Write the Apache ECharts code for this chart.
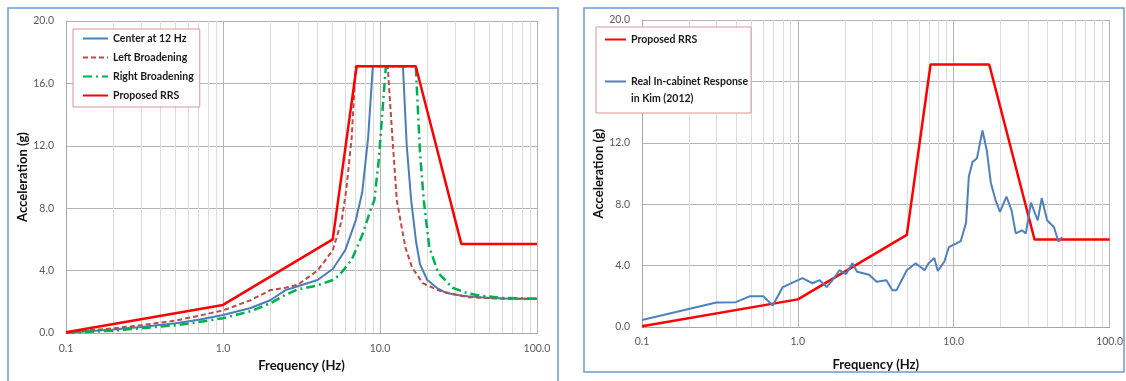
<!DOCTYPE html>
<html>
<head>
<meta charset="utf-8">
<script src="https://cdn.jsdelivr.net/npm/echarts@6/dist/echarts.min.js"></script>
<style>
  html, body { margin: 0; padding: 0; background: #fff; }
  #main { width: 1126px; height: 381px; }
</style>
</head>
<body>
<div id="main"></div>
<script>
// left chart: broadening study
const rrsFreq = [0.1, 1, 5, 7.1, 16.9, 33, 100]
const rrsAcc = [0.05, 1.8, 6.0, 17.1, 17.1, 5.7, 5.7]

const centerFreq = [0.1, 0.2, 0.3, 0.5, 0.7, 1, 1.5, 2, 2.5, 3, 4, 5, 6, 7, 7.7, 8.4, 9, 14, 14.8, 15.8, 17, 18, 20, 23, 26, 30, 36, 50, 70, 100]
const centerAcc = [0.02, 0.22, 0.38, 0.62, 0.85, 1.15, 1.6, 2.1, 2.75, 3.0, 3.4, 4.1, 5.3, 7.2, 9.0, 12.5, 17.1, 17.1, 12.0, 8.5, 5.8, 4.4, 3.4, 2.9, 2.6, 2.45, 2.35, 2.25, 2.2, 2.2]

const leftFreq = [0.1, 0.2, 0.3, 0.5, 0.7, 1, 1.5, 2, 2.5, 3, 4, 5, 5.7, 6.1, 6.6, 7.0, 11.2, 12, 12.8, 14.5, 16, 18.7, 24, 36, 60, 100]
const leftAcc = [0.05, 0.3, 0.5, 0.8, 1.1, 1.45, 2.1, 2.75, 2.9, 3.1, 4.0, 5.3, 7.2, 9.2, 12.5, 17.1, 17.1, 12.5, 8.5, 5.5, 4.2, 3.2, 2.7, 2.3, 2.2, 2.2]

const rightFreq = [0.1, 0.2, 0.3, 0.5, 0.7, 1, 1.5, 2, 2.5, 3, 4, 5, 5.5, 6.6, 7.8, 8.7, 9.2, 9.8, 10.9, 16.9, 18, 19, 20.6, 23.5, 29, 36, 43, 60, 100]
const rightAcc = [0.0, 0.15, 0.3, 0.5, 0.7, 0.95, 1.4, 1.9, 2.45, 2.8, 3.05, 3.4, 3.7, 4.7, 6.4, 7.9, 8.5, 11, 17.1, 17.1, 11.5, 8.5, 5.5, 3.85, 2.9, 2.55, 2.4, 2.25, 2.2]

// right chart: measured cabinet response
const kimFreq = [0.1, 0.3, 0.4, 0.49, 0.6, 0.69, 0.8, 1.07, 1.24, 1.38, 1.53, 1.67, 1.85, 2.04, 2.24, 2.4, 2.87, 3.2, 3.7, 4.04, 4.3, 5.0, 5.7, 6.5, 6.9, 7.5, 7.9, 8.7, 9.3, 10.4, 11.1, 12.0, 12.5, 13.2, 14.1, 15.3, 16.3, 17.3, 18.5, 19.8, 21.8, 23.5, 25, 27.4, 29, 31.3, 33.5, 34.6, 36.7, 39.7, 44, 47, 49.5]
const kimAcc = [0.45, 1.6, 1.62, 2.0, 2.0, 1.4, 2.6, 3.18, 2.85, 3.05, 2.6, 3.05, 3.7, 3.45, 4.15, 3.6, 3.4, 2.95, 3.05, 2.4, 2.4, 3.7, 4.15, 3.7, 4.15, 4.5, 3.65, 4.25, 5.2, 5.45, 5.6, 6.8, 9.8, 10.75, 11.0, 12.8, 11.5, 9.4, 8.3, 7.5, 8.5, 7.6, 6.1, 6.3, 6.1, 8.1, 7.3, 6.95, 8.4, 6.95, 6.5, 5.55, 5.85]

const minorFreq = [0.2, 0.3, 0.4, 0.5, 0.6, 0.7, 0.8, 0.9, 2, 3, 4, 5, 6, 7, 8, 9, 20, 30, 40, 50, 60, 70, 80, 90]

const kimName = 'Real In-cabinet Response in Kim (2012)'

const zip = (xs, ys) => xs.map((x, i) => [x, ys[i]])

const chart = echarts.init(document.getElementById('main'), null, {renderer: 'canvas'})

const font = 'Lato, "Open Sans", sans-serif'

const xAxis = (gridIndex, nameGap, labelMargin) => ({
  type: 'log',
  logBase: 10,
  gridIndex,
  min: 0.1,
  max: 100,
  name: 'Frequency (Hz)',
  nameLocation: 'middle',
  nameGap,
  nameTextStyle: {fontFamily: font, fontWeight: 'bold', fontSize: 13, color: '#111'},
  axisLine: {lineStyle: {color: '#a6a6a6'}},
  axisTick: {show: false},
  axisLabel: {
    margin: labelMargin,
    fontFamily: font, fontSize: 10.5, color: '#595959',
    formatter: v => Number(v).toFixed(1),
  },
  splitLine: {show: true, lineStyle: {color: '#b3b3b3'}},
})

const yAxis = (gridIndex, nameGap) => ({
  type: 'value',
  gridIndex,
  min: 0,
  max: 20,
  interval: 4,
  name: 'Acceleration (g)',
  nameLocation: 'middle',
  nameGap,
  nameTextStyle: {fontFamily: font, fontWeight: 'bold', fontSize: 13, color: '#111'},
  axisLine: {show: true, lineStyle: {color: '#a6a6a6'}},
  axisTick: {show: false},
  axisLabel: {
    margin: 12,
    fontFamily: font, fontSize: 10.5, color: '#595959',
    formatter: v => v.toFixed(1),
  },
  splitLine: {show: true, lineStyle: {color: '#b3b3b3'}},
})

// light log-decade grid lines (2..9 in each decade)
const minorGrid = (idx) => ({
  type: 'line',
  name: 'minor' + idx,
  xAxisIndex: idx,
  yAxisIndex: idx,
  data: [],
  silent: true,
  markLine: {
    silent: true,
    symbol: ['none', 'none'],
    animation: false,
    z: 1,
    label: {show: false},
    lineStyle: {color: '#dcdcdc', type: 'solid', width: 1},
    data: minorFreq.map(f => ({xAxis: f})),
  },
})

const line = (name, idx, data, color, width, type) => ({
  type: 'line',
  name,
  xAxisIndex: idx,
  yAxisIndex: idx,
  data,
  symbol: 'none',
  z: 3,
  lineStyle: {color, width, type},
  itemStyle: {color},
})

const legendText = {fontFamily: font, fontWeight: 'bold', fontSize: 10.5, color: '#1a1a1a'}

chart.setOption({
  animation: false,
  backgroundColor: '#fff',
  graphic: [
    {type: 'rect', shape: {x: 8, y: 8, width: 550, height: 382}, style: {fill: 'none', stroke: '#6a9bd8', lineWidth: 1.5}, z: -1},
    {type: 'rect', shape: {x: 584, y: 8, width: 540, height: 364}, style: {fill: 'none', stroke: '#6a9bd8', lineWidth: 1.5}, z: -1},
  ],
  grid: [
    {left: 66, top: 21, width: 471, height: 312},
    {left: 642, top: 20, width: 469, height: 307},
  ],
  xAxis: [xAxis(0, 25, 10), xAxis(1, 31, 9)],
  yAxis: [yAxis(0, 35), yAxis(1, 37)],
  legend: [
    {
      orient: 'vertical',
      left: 73,
      top: 29,
      itemWidth: 25,
      itemHeight: 12,
      itemGap: 8,
      padding: [4, 6, 6, 9],
      borderColor: '#d99694',
      borderWidth: 1,
      backgroundColor: '#fff',
      itemStyle: {opacity: 0},
      textStyle: legendText,
      data: ['Center at 12 Hz', 'Left Broadening', 'Right Broadening', 'Proposed RRS'],
    },
    {
      orient: 'vertical',
      left: 596,
      top: 27,
      itemWidth: 21,
      itemHeight: 12,
      itemGap: 11,
      padding: [7, 3, 6, 8],
      borderColor: '#d99694',
      borderWidth: 1,
      backgroundColor: '#fff',
      itemStyle: {opacity: 0},
      textStyle: legendText,
      formatter: n => n === kimName ? ' \nReal In-cabinet Response\nin Kim (2012)' : n,
      data: [
        'Proposed RRS',
        {name: kimName, textStyle: {lineHeight: 17}},
      ],
    },
  ],
  series: [
    minorGrid(0),
    minorGrid(1),
    line('Center at 12 Hz', 0, zip(centerFreq, centerAcc), '#4a7ebb', 2, 'solid'),
    line('Left Broadening', 0, zip(leftFreq, leftAcc), '#be4b48', 2, [5, 3]),
    line('Right Broadening', 0, zip(rightFreq, rightAcc), '#00b050', 2.5, [9, 4, 2, 4]),
    line('Proposed RRS', 0, zip(rrsFreq, rrsAcc), '#ff0000', 2.5, 'solid'),
    line('Proposed RRS', 1, zip(rrsFreq, rrsAcc), '#ff0000', 2.5, 'solid'),
    line(kimName, 1, zip(kimFreq, kimAcc), '#4f81bd', 2, 'solid'),
  ],
})
</script>
</body>
</html>
